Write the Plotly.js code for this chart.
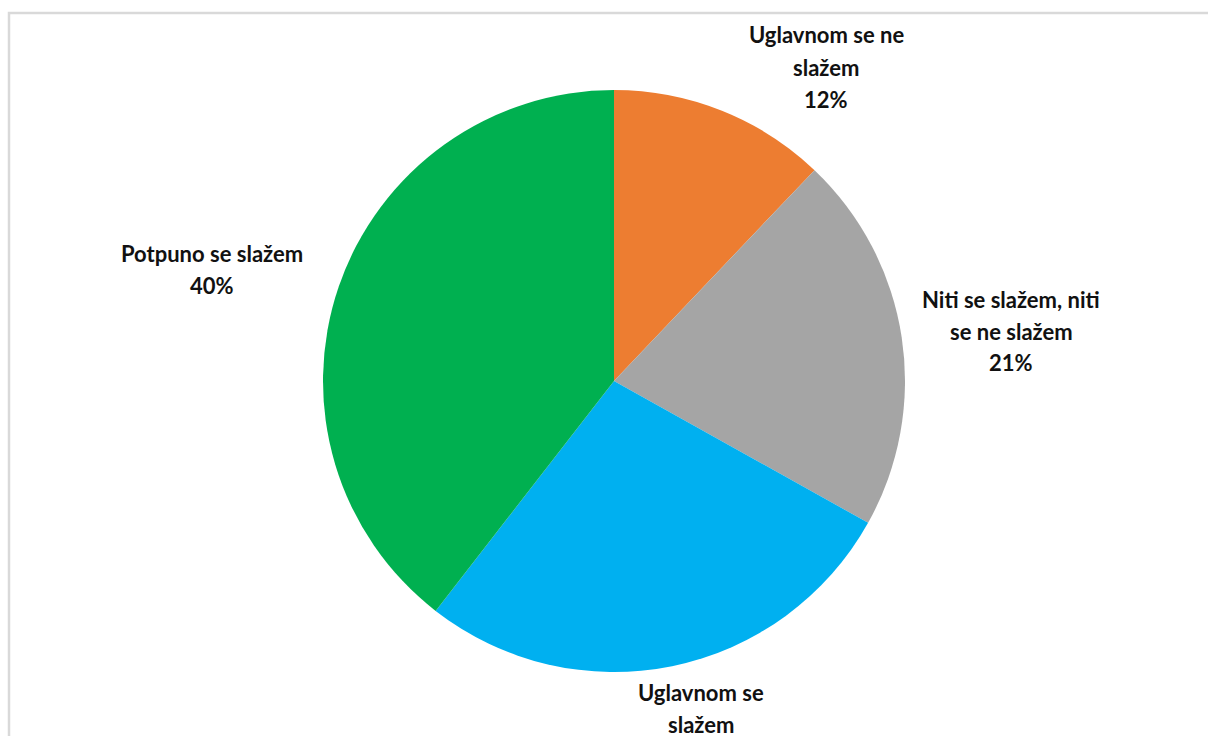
<!DOCTYPE html>
<html>
<head>
<meta charset="utf-8">
<script src="https://cdn.plot.ly/plotly-3.0.1.min.js"></script>
<style>html,body{margin:0;padding:0;background:#fff;}#chart{width:1208px;height:736px;}</style>
</head>
<body>
<div id="chart"></div>
<script>
// Data
var categories = ["Uglavnom se ne slažem", "Niti se slažem, niti se ne slažem", "Uglavnom se slažem", "Potpuno se slažem"];
var values = [12.1, 21.0, 27.4, 39.5];
var labelLines = [
  ["Uglavnom se ne", "slažem"],
  ["Niti se slažem, niti", "se ne slažem"],
  ["Uglavnom se", "slažem"],
  ["Potpuno se slažem"]
];
var colors = ["#ED7D31", "#A5A5A5", "#00B0F0", "#00B050"];

var W = 1208, H = 736;
var cx = 614, cy = 381, R = 291;

// label anchor positions (pixels, center of first text line)
var labelPos = [
  {x: 826, y: 35},
  {x: 1011, y: 299},
  {x: 701, y: 692},
  {x: 212, y: 253}
];
var lineGap = 32;

var total = values.reduce(function(a,b){return a+b;},0);
var annotations = [];
categories.forEach(function(c, i){
  var pct = Math.round(values[i] / total * 100) + "%";
  var lines = labelLines[i].concat([pct]);
  lines.forEach(function(txt, j){
    annotations.push({
      xref: "paper", yref: "paper",
      x: labelPos[i].x / W, y: 1 - (labelPos[i].y + j * lineGap) / H,
      xanchor: "center", yanchor: "middle",
      text: txt,
      showarrow: false,
      font: {family: "Lato, 'Open Sans', sans-serif", size: 22, color: "#111111", weight: "bold"}
    });
  });
});

var trace = {
  type: "pie",
  labels: categories,
  values: values,
  sort: false,
  direction: "clockwise",
  rotation: 0,
  textinfo: "none",
  hoverinfo: "label+percent",
  marker: {colors: colors, line: {width: 0}},
  domain: {
    x: [(cx - R) / W, (cx + R) / W],
    y: [1 - (cy + R) / H, 1 - (cy - R) / H]
  },
  showlegend: false
};

var layout = {
  width: W, height: H,
  margin: {l: 0, r: 0, t: 0, b: 0},
  paper_bgcolor: "#ffffff",
  showlegend: false,
  annotations: annotations,
  shapes: [{
    type: "rect", xref: "paper", yref: "paper",
    x0: 9 / W, x1: 1.05, y0: -0.05, y1: 1 - 13 / H,
    line: {color: "#d9d9d9", width: 2.5},
    fillcolor: "rgba(0,0,0,0)",
    layer: "below"
  }]
};

Plotly.newPlot("chart", [trace], layout, {displayModeBar: false, staticPlot: true});
</script>
</body>
</html>
